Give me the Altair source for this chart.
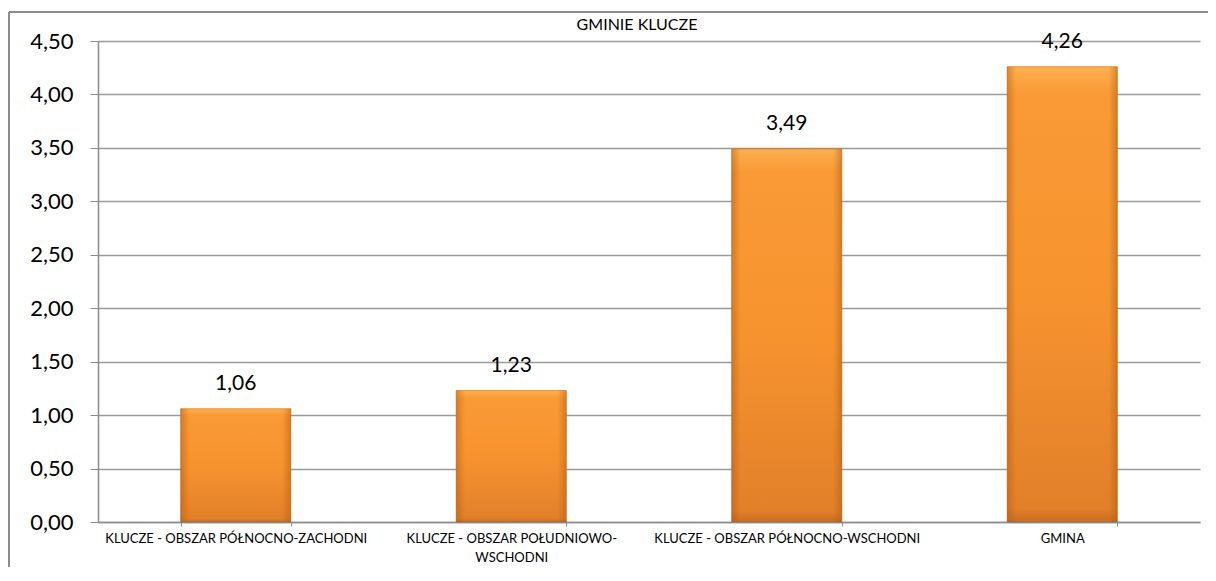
import altair as alt
import pandas as pd

categories = [
    "KLUCZE - OBSZAR PÓŁNOCNO-ZACHODNI",
    "KLUCZE - OBSZAR POŁUDNIOWO-WSCHODNI",
    "KLUCZE - OBSZAR PÓŁNOCNO-WSCHODNI",
    "GMINA",
]
values = [1.06, 1.23, 3.49, 4.26]
y_ticks = [0, 0.5, 1.0, 1.5, 2.0, 2.5, 3.0, 3.5, 4.0, 4.5]
title_text = "GMINIE KLUCZE"

df = pd.DataFrame({"kat": categories, "val": values})

W, H = 1102, 481
FONT = "Lato"

x_enc = alt.X(
    "kat:N",
    sort=categories,
    scale=alt.Scale(paddingInner=0.6, paddingOuter=0.3),
    axis=alt.Axis(
        title=None,
        labelAngle=0,
        labelFont=FONT,
        labelFontSize=13,
        labelColor="#000000",
        labelPadding=6,
        labelLineHeight=19,
        labelLimit=280,
        tickBand="extent",
        tickSize=4,
        tickColor="#8c8c8c",
        domainColor="#8c8c8c",
        domainWidth=1.5,
        grid=False,
        labelExpr="datum.label == 'KLUCZE - OBSZAR POŁUDNIOWO-WSCHODNI' ? ['KLUCZE - OBSZAR POŁUDNIOWO-', 'WSCHODNI'] : datum.label",
    ),
)

y_enc = alt.Y(
    "val:Q",
    scale=alt.Scale(domain=[0, 4.5], nice=False),
    axis=alt.Axis(
        title=None,
        values=y_ticks,
        labelFont=FONT,
        labelFontSize=22,
        labelColor="#000000",
        labelPadding=17,
        tickSize=8,
        tickColor="#8c8c8c",
        domainColor="#8c8c8c",
        domainWidth=1.5,
        gridColor="#9a9a9a",
        gridWidth=1.5,
        labelExpr="replace(format(datum.value, '.2f'), '.', ',')",
    ),
)

grad = alt.Gradient(
    gradient="linear",
    x1=0, x2=0, y1=0, y2=1,
    stops=[
        alt.GradientStop(color="#fcb050", offset=0),
        alt.GradientStop(color="#f99a36", offset=0.06),
        alt.GradientStop(color="#f7932f", offset=0.5),
        alt.GradientStop(color="#e2802a", offset=0.97),
        alt.GradientStop(color="#c96d20", offset=1),
    ],
)

side_shade = alt.Gradient(
    gradient="linear",
    x1=0, x2=1, y1=0, y2=0,
    stops=[
        alt.GradientStop(color="rgba(170,85,15,0.45)", offset=0),
        alt.GradientStop(color="rgba(170,85,15,0.0)", offset=0.08),
        alt.GradientStop(color="rgba(170,85,15,0.0)", offset=0.92),
        alt.GradientStop(color="rgba(170,85,15,0.45)", offset=1),
    ],
)

border_top = alt.Chart(df).mark_rule(color="#8c8c8c", strokeWidth=2).encode(
    x=alt.value(-89), x2=alt.value(1120), y=alt.value(-29)
)
border_left = alt.Chart(df).mark_rule(color="#8c8c8c", strokeWidth=2).encode(
    x=alt.value(-89), y=alt.value(-29), y2=alt.value(600)
)

bars = alt.Chart(df).mark_bar(
    color=grad, stroke="#c0661c", strokeWidth=0.8, strokeOpacity=0.7
).encode(x=x_enc, y=y_enc)

shade = alt.Chart(df).mark_bar(color=side_shade).encode(
    x=alt.X("kat:N", sort=categories), y=alt.Y("val:Q")
)

labels = alt.Chart(df).transform_calculate(
    lab="replace(format(datum.val, '.2f'), '.', ',')"
).mark_text(
    font=FONT, fontSize=21, color="#000000", baseline="alphabetic", dy=-19
).encode(
    x=alt.X("kat:N", sort=categories),
    y=alt.Y("val:Q"),
    text="lab:N",
)

title = alt.Chart(pd.DataFrame({"t": [title_text]})).mark_text(
    font=FONT, fontSize=16, color="#000000", baseline="alphabetic", align="center"
).encode(
    x=alt.value(539), y=alt.value(-11), text="t:N"
)

chart = alt.layer(border_top, border_left, bars, shade, labels, title).properties(
    width=W,
    height=H,
    padding={"left": 90, "top": 33, "right": 8, "bottom": 45},
    autosize=alt.AutoSizeParams(type="none"),
    background="white",
).configure_view(stroke=None)

chart.save("out.html", embed_options={"renderer": "svg", "actions": False})
